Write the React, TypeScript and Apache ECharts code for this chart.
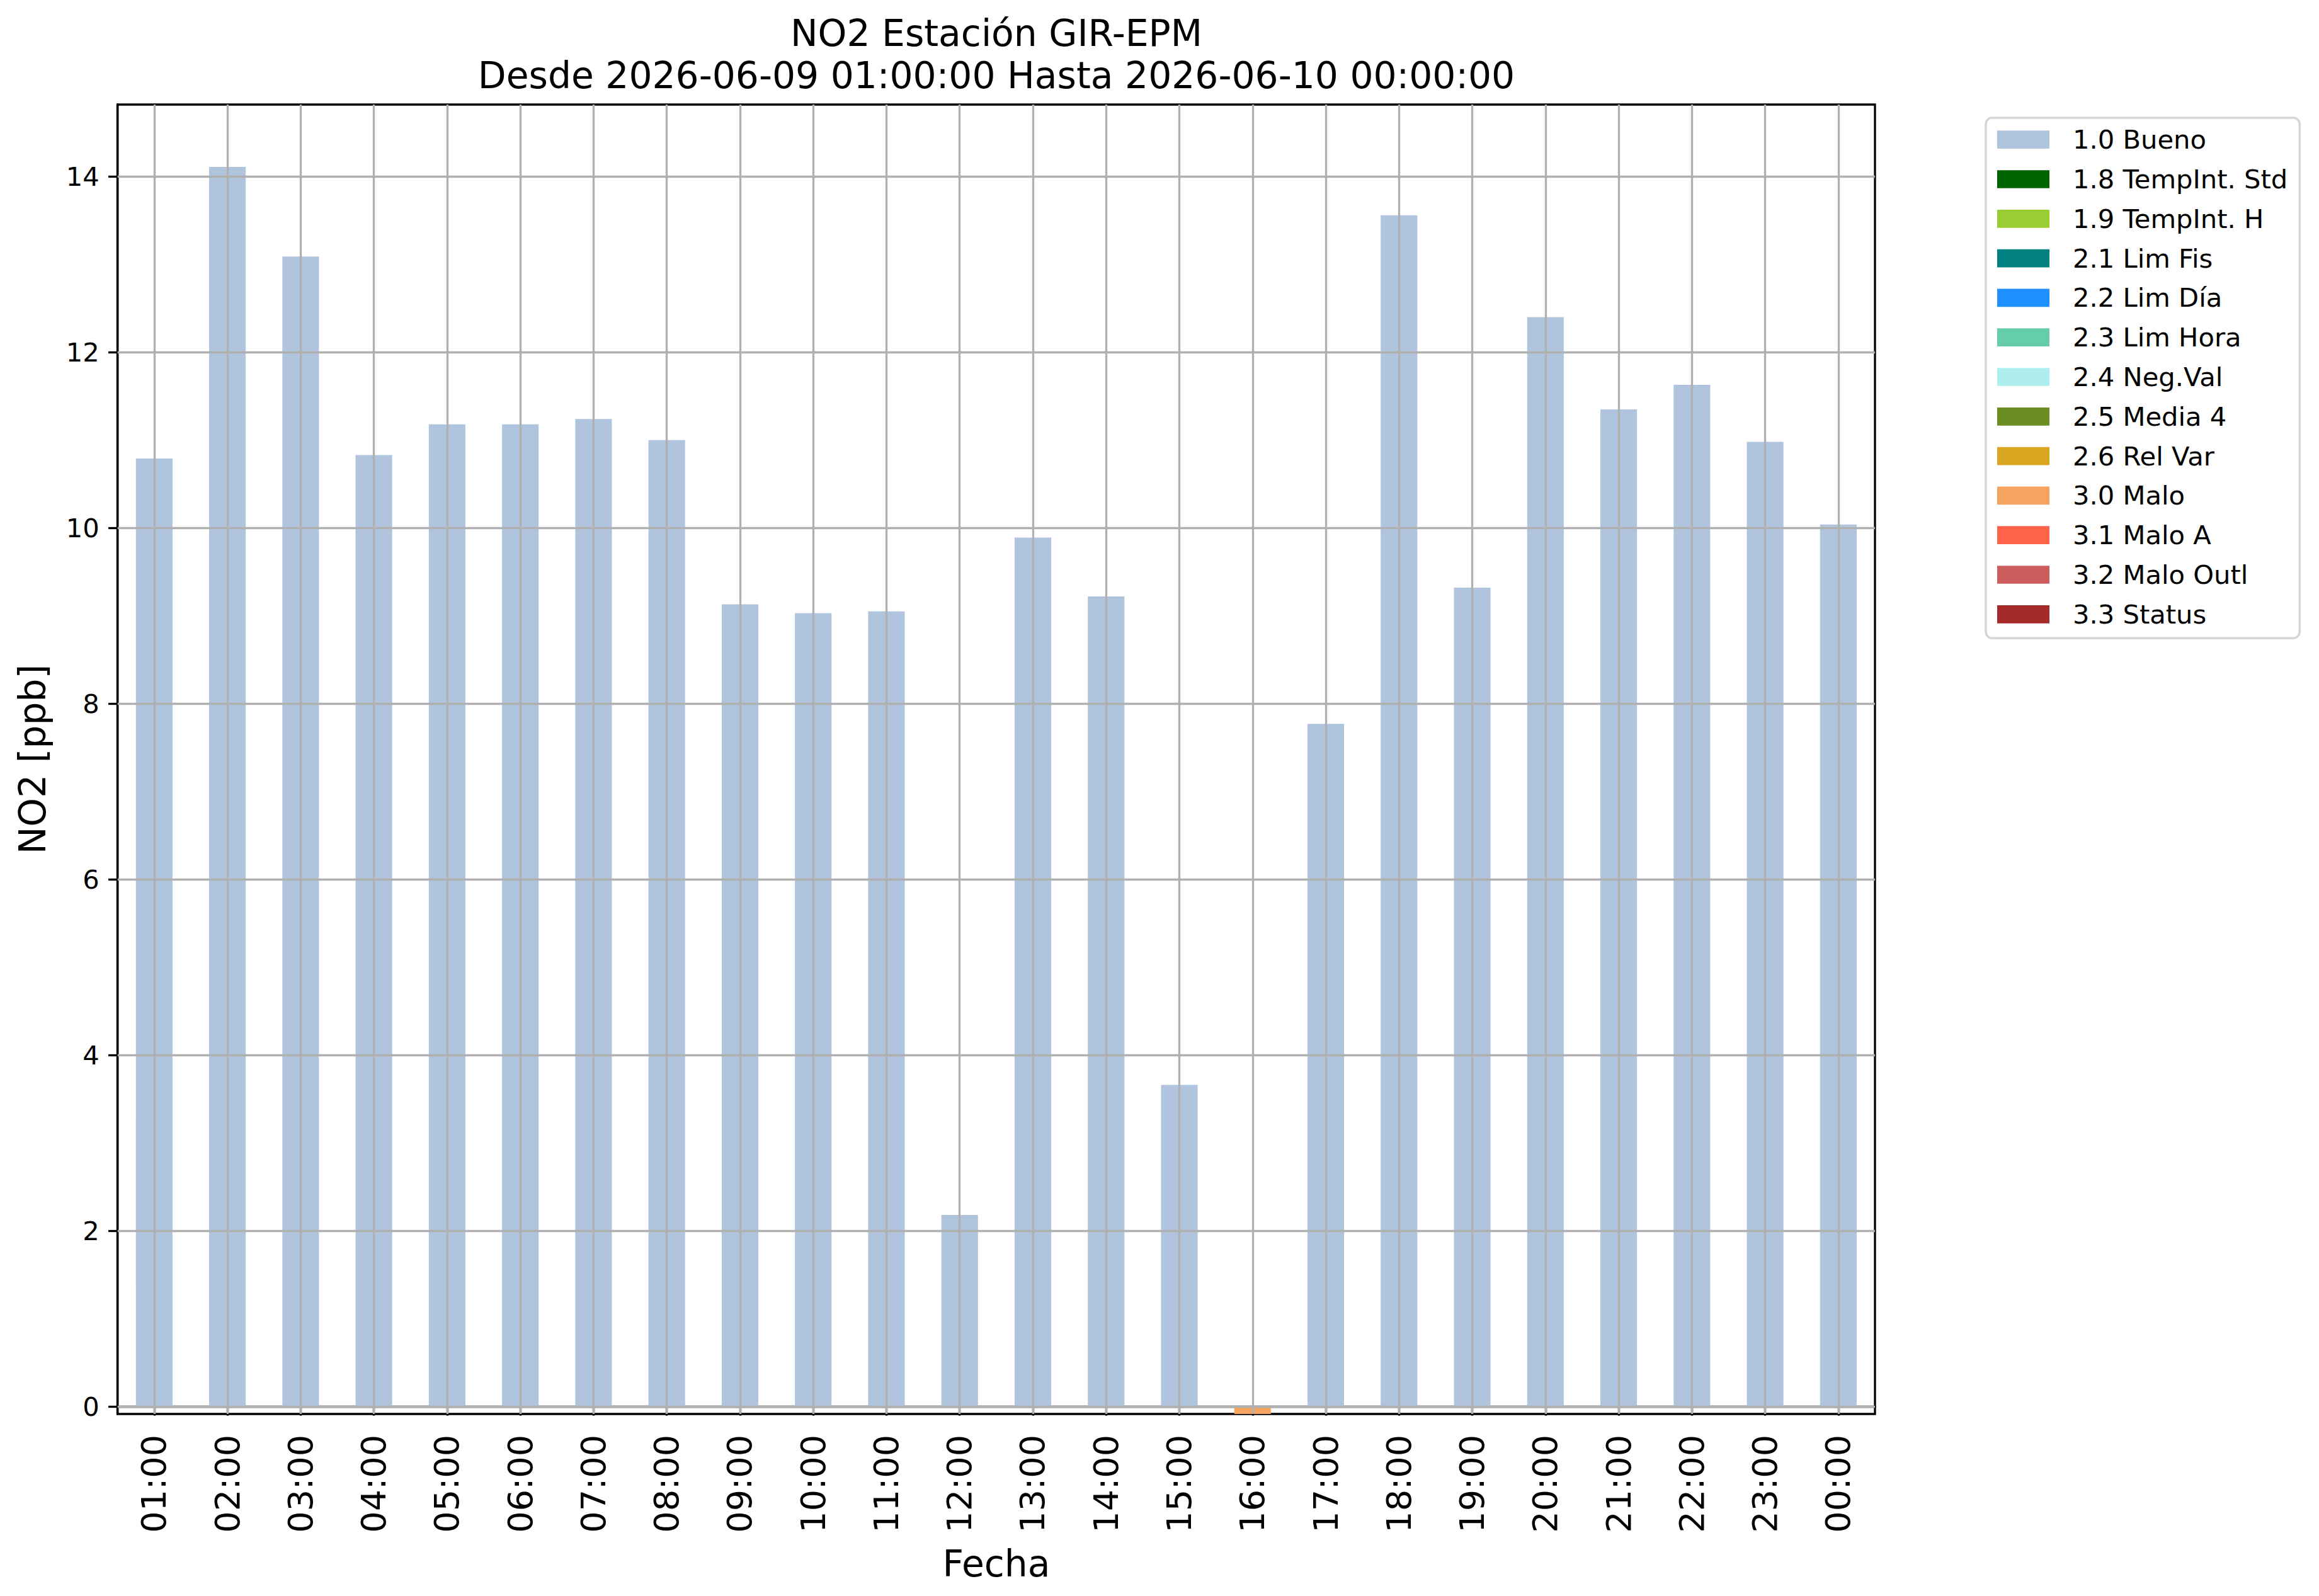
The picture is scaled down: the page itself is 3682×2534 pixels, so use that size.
import React, { useEffect, useRef } from "react";
import * as echarts from "echarts";

const hours = [
  "01:00", "02:00", "03:00", "04:00", "05:00", "06:00", "07:00", "08:00",
  "09:00", "10:00", "11:00", "12:00", "13:00", "14:00", "15:00", "16:00",
  "17:00", "18:00", "19:00", "20:00", "21:00", "22:00", "23:00", "00:00",
];

const buenoValues = [
  10.79, 14.11, 13.09, 10.83, 11.18, 11.18, 11.24, 11.0,
  9.13, 9.03, 9.05, 2.18, 9.89, 9.22, 3.66, null,
  7.77, 13.56, 9.32, 12.4, 11.35, 11.63, 10.98, 10.04,
];

const maloValues = [
  null, null, null, null, null, null, null, null,
  null, null, null, null, null, null, null, -0.086,
  null, null, null, null, null, null, null, null,
];

const flagNames = [
  "1.0 Bueno", "1.8 TempInt. Std", "1.9 TempInt. H", "2.1 Lim Fis", "2.2 Lim Día",
  "2.3 Lim Hora", "2.4 Neg.Val", "2.5 Media 4", "2.6 Rel Var", "3.0 Malo",
  "3.1 Malo A", "3.2 Malo Outl", "3.3 Status",
];

const flagColors = [
  "#b0c4de", "#006400", "#9acd32", "#008080", "#1e90ff",
  "#66cdaa", "#afeeee", "#6b8e23", "#daa520", "#f4a460",
  "#ff6347", "#cd5c5c", "#a52a2a",
];

const flagValues: Record<string, (number | null)[]> = {
  "1.0 Bueno": buenoValues,
  "3.0 Malo": maloValues,
};

const yTicks = [0, 2, 4, 6, 8, 10, 12, 14];
const yMin = -0.086;
const yMax = 14.82;

const titleLine1 = "NO2 Estación GIR-EPM";
const titleLine2 = "Desde 2026-06-09 01:00:00 Hasta 2026-06-10 00:00:00";
const xName = "Fecha";
const yName = "NO2 [ppb]";

const FONT = "DejaVu Sans";
const LW = 3.33;
const GRID_COLOR = "#b0b0b0";

export default function App() {
  const ref = useRef<HTMLDivElement>(null);

  useEffect(() => {
    if (!ref.current) return;
    const chart = echarts.init(ref.current, null, { renderer: "svg" });

    const series: any[] = flagNames.map((name, i) => ({
      name,
      type: "bar",
      stack: "total",
      barWidth: "50%",
      data: flagValues[name] || [],
      itemStyle: { color: flagColors[i] },
      emphasis: { disabled: true },
      silent: true,
    }));

    // grid lines drawn on top of the bars (like the reference)
    series.push({
      name: "__grid",
      type: "line",
      data: [],
      showSymbol: false,
      silent: true,
      markLine: {
        silent: true,
        symbol: ["none", "none"],
        label: { show: false },
        emphasis: { disabled: true },
        lineStyle: { color: GRID_COLOR, width: LW, type: "solid" },
        z: 5,
        data: [
          ...yTicks.map((v) => ({ yAxis: v })),
          ...hours.map((h) => ({ xAxis: h })),
        ],
      },
    });

    const option: any = {
      animation: false,
      backgroundColor: "#ffffff",
      textStyle: { fontFamily: FONT, color: "#000" },
      grid: {
        left: 186.7,
        right: 705,
        top: 166,
        bottom: 289,
        show: true,
        borderColor: "#000",
        borderWidth: LW,
        backgroundColor: "transparent",
      },
      legend: {
        orient: "vertical",
        left: 3153,
        top: 187,
        padding: [13.7, 19, 17, 18],
        itemWidth: 83,
        itemHeight: 28.7,
        itemGap: 20.8,
        icon: "rect",
        selectedMode: false,
        backgroundColor: "#ffffff",
        borderColor: "#d6d6d6",
        borderWidth: 3.5,
        borderRadius: 10,
        data: flagNames,
        textStyle: {
          fontFamily: FONT,
          fontSize: 41.67,
          lineHeight: 42,
          color: "#000",
          padding: [0, 0, 0, 32],
        },
      },
      xAxis: {
        type: "category",
        data: hours,
        boundaryGap: true,
        axisLine: { show: true, lineStyle: { color: "#000", width: LW } },
        axisTick: {
          show: true,
          alignWithLabel: true,
          length: 14.6,
          lineStyle: { color: "#000", width: LW },
        },
        axisLabel: {
          interval: 0,
          rotate: 90,
          margin: 33,
          fontSize: 54,
          fontFamily: FONT,
          color: "#000",
        },
        splitLine: { show: false },
      },
      yAxis: {
        type: "value",
        min: yMin,
        max: yMax,
        axisLine: { show: true, lineStyle: { color: "#000", width: LW } },
        axisTick: {
          show: true,
          length: 14.6,
          customValues: yTicks,
          lineStyle: { color: "#000", width: LW },
        },
        axisLabel: {
          customValues: yTicks,
          margin: 29,
          fontSize: 41.67,
          fontFamily: FONT,
          color: "#000",
        },
        splitLine: { show: false },
      },
      graphic: [
        {
          type: "text",
          x: 1582,
          y: 53,
          style: {
            text: titleLine1,
            fontSize: 58.3,
            fontFamily: FONT,
            fill: "#000",
            align: "center",
            verticalAlign: "middle",
          },
        },
        {
          type: "text",
          x: 1582,
          y: 120,
          style: {
            text: titleLine2,
            fontSize: 58.3,
            fontFamily: FONT,
            fill: "#000",
            align: "center",
            verticalAlign: "middle",
          },
        },
        {
          type: "text",
          x: 1582,
          y: 2483,
          style: {
            text: xName,
            fontSize: 58.3,
            fontFamily: FONT,
            fill: "#000",
            align: "center",
            verticalAlign: "middle",
          },
        },
        {
          type: "text",
          x: 52,
          y: 1205.5,
          rotation: Math.PI / 2,
          style: {
            text: yName,
            fontSize: 58.3,
            fontFamily: FONT,
            fill: "#000",
            align: "center",
            verticalAlign: "middle",
          },
        },
      ],
      series,
    };

    chart.setOption(option);
    return () => {
      chart.dispose();
    };
  }, []);

  return (
    <div
      ref={ref}
      style={{ position: "absolute", left: 0, top: 0, width: 3682, height: 2534 }}
    />
  );
}
